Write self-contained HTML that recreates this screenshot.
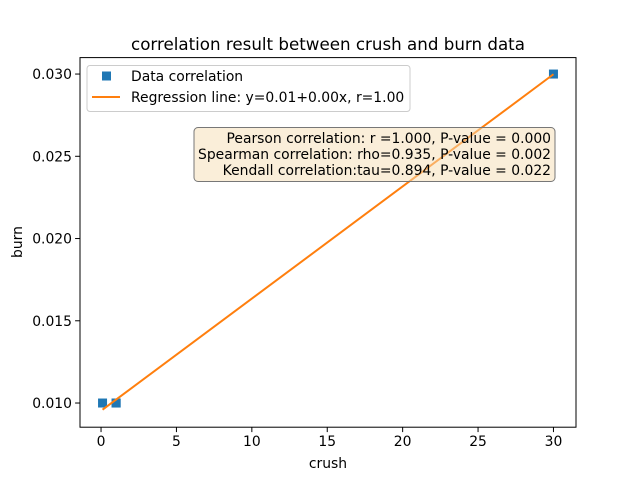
<!DOCTYPE html>
<html><head><meta charset="utf-8"><style>
body{margin:0;background:#fff}
svg text{font-family:"DejaVu Sans","Liberation Sans",sans-serif;fill:#000}
</style></head><body>
<svg id="c" width="640" height="480" xmlns="http://www.w3.org/2000/svg"></svg>
<script>
const xs=[0.1,1,1,30];
const ys=[0.01,0.01,0.01,0.03];
const xTicks=[0,5,10,15,20,25,30];
const yTicks=[0.010,0.015,0.020,0.025,0.030];
const L=80,R=576,T=57.6,B=427.2;
const xmin=-1.395,xmax=31.495,ymin=0.00853,ymax=0.031;
const X=v=>L+(v-xmin)/(xmax-xmin)*(R-L);
const Y=v=>B-(v-ymin)/(ymax-ymin)*(B-T);
const s=document.getElementById('c');const NS='http://www.w3.org/2000/svg';
const FS='13.9';
function el(t,a,p){const e=document.createElementNS(NS,t);for(const k in a)e.setAttribute(k,a[k]);(p||s).appendChild(e);return e;}
function tx(x,y,str,a,p){const e=el('text',Object.assign({x:x,y:y,'font-size':FS},a||{}),p);e.textContent=str;return e;}
const n=xs.length,mx=xs.reduce((a,b)=>a+b)/n,my=ys.reduce((a,b)=>a+b)/n;
let sxx=0,sxy=0;for(let i=0;i<n;i++){sxx+=(xs[i]-mx)**2;sxy+=(xs[i]-mx)*(ys[i]-my);}
const m=sxy/sxx,b=my-m*mx;
xs.forEach((x,i)=>{const r=el('rect',{x:X(x)-4.5,y:Y(ys[i])-4.5,width:9,height:9,fill:'#1f77b4'});

});
const pts=xs.map(x=>X(x)+','+Y(b+m*x)).join(' ');
const ln=el('polyline',{points:pts,fill:'none',stroke:'#ff7f0e','stroke-width':2});


el('rect',{x:L,y:T,width:R-L,height:B-T,fill:'none',stroke:'#000','stroke-width':1,});
xTicks.forEach(v=>{el('line',{x1:X(v),x2:X(v),y1:B,y2:B+4.9,stroke:'#000'});const t=tx(X(v),B+19,String(v),{'text-anchor':'middle'});

});
yTicks.forEach(v=>{el('line',{x1:L,x2:L-4.9,y1:Y(v),y2:Y(v),stroke:'#000'});const t=tx(L-8,Y(v)+5,v.toFixed(3),{'text-anchor':'end'});

});
tx(328,468,'crush',{'text-anchor':'middle',});
tx(22,242,'burn',{'text-anchor':'middle',transform:'rotate(-90 22 242)',});
tx(328,50,'correlation result between crush and burn data',{'text-anchor':'middle','font-size':'16.7',});
const g=el('g',{});
el('rect',{x:87,y:65.5,width:323,height:46,rx:3,fill:'#fff','fill-opacity':0.8,stroke:'#ccc'},g);
el('rect',{x:102,y:71.5,width:9,height:9,fill:'#1f77b4'},g);
tx(131,81,'Data correlation',{},g);
el('line',{x1:92,x2:120,y1:97,y2:97,stroke:'#ff7f0e','stroke-width':2},g);
tx(131,102,'Regression line: y=0.01+0.00x, r=1.00',{},g);
const g2=el('g',{});
el('rect',{x:194,y:127.5,width:361,height:54,rx:4,fill:'#f5deb3','fill-opacity':0.5,stroke:'#777'},g2);
tx(551,143,'Pearson correlation: r =1.000, P-value = 0.000',{'text-anchor':'end'},g2);
tx(551,159,'Spearman correlation: rho=0.935, P-value = 0.002',{'text-anchor':'end'},g2);
tx(551,175,'Kendall correlation:tau=0.894, P-value = 0.022',{'text-anchor':'end'},g2);
</script>
</body></html>
